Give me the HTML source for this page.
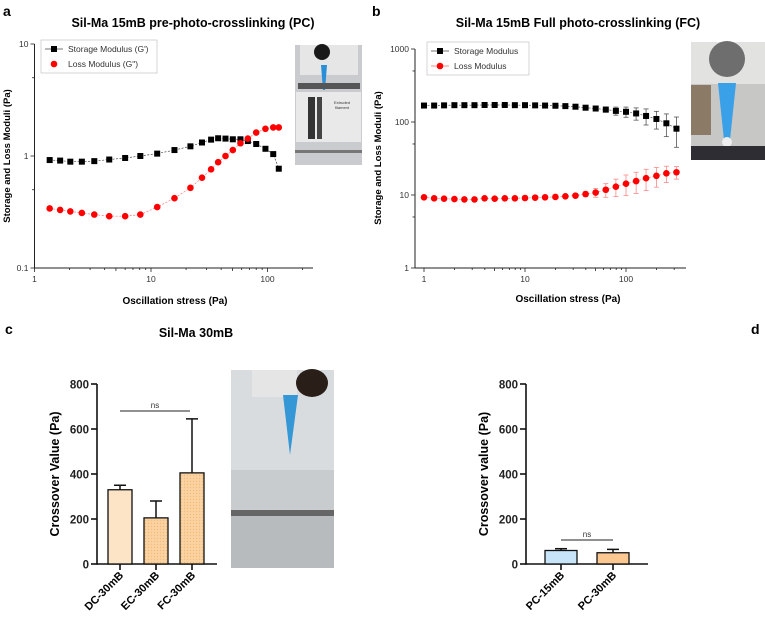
<!DOCTYPE html>
<html><head><meta charset="utf-8"><style>
body{margin:0;background:#fff;}
svg{display:block;font-family:"Liberation Sans",sans-serif;}
</style></head><body>
<svg id="fig" width="765" height="626" viewBox="0 0 765 626" xmlns="http://www.w3.org/2000/svg">
<defs>
<pattern id="dots" width="3" height="3" patternUnits="userSpaceOnUse"><rect width="3" height="3" fill="#fbd3a3"/><circle cx="1.5" cy="1.5" r="0.7" fill="#f3b978"/></pattern>
</defs>
<text x="3" y="16" font-size="14" font-weight="bold">a</text>
<text x="372" y="16" font-size="14" font-weight="bold">b</text>
<text x="5" y="334" font-size="14" font-weight="bold">c</text>
<text x="751" y="334" font-size="14" font-weight="bold">d</text>
<text x="193" y="27" font-size="12.5" font-weight="bold" text-anchor="middle">Sil-Ma 15mB pre-photo-crosslinking (PC)</text>
<text x="578" y="27" font-size="12.5" font-weight="bold" text-anchor="middle">Sil-Ma 15mB Full photo-crosslinking (FC)</text>
<text x="196" y="337" font-size="12.5" font-weight="bold" text-anchor="middle">Sil-Ma 30mB</text>
<g>
<rect x="295" y="45" width="67" height="120" fill="#c9cbcf"/>
<rect x="300" y="45" width="58" height="30" fill="#e6e6e6"/>
<circle cx="322" cy="52" r="8" fill="#1a1a1a"/>
<polygon points="321,65 327,65 325,90 323,90" fill="#2a8fd6"/>
<rect x="298" y="83" width="62" height="6" fill="#555"/>
<rect x="296" y="92" width="65" height="50" fill="#e9e9ea"/>
<rect x="308" y="97" width="7" height="42" fill="#333"/>
<rect x="317" y="97" width="5" height="42" fill="#444"/>
<text x="334" y="104" font-size="4" fill="#333">Extruded</text>
<text x="335" y="109" font-size="4" fill="#333">filament</text>
<rect x="295" y="150" width="67" height="3" fill="#777"/>
</g>
<g>
<rect x="691" y="42" width="74" height="118" fill="#c7c7c5"/>
<rect x="691" y="42" width="74" height="42" fill="#e2e2e0"/>
<circle cx="727" cy="59" r="18" fill="#6e6e6e"/>
<rect x="691" y="85" width="20" height="50" fill="#8a7a66"/>
<polygon points="718,83 736,83 730,140 724,140" fill="#3aa0e8"/>
<circle cx="727" cy="142" r="5" fill="#eee"/>
<rect x="691" y="146" width="74" height="14" fill="#2d2d33"/>
</g>
<g>
<rect x="231" y="370" width="103" height="198" fill="#c9ccce"/>
<rect x="231" y="370" width="103" height="100" fill="#d9dcde"/>
<rect x="252" y="370" width="45" height="27" fill="#e5e5e5"/>
<ellipse cx="312" cy="383" rx="16" ry="14" fill="#2a1e18"/>
<polygon points="283,395 298,395 290,455" fill="#3597d6"/>
<rect x="231" y="510" width="103" height="6" fill="#666"/>
<rect x="231" y="516" width="103" height="52" fill="#b8bbbd"/>
</g>
<g id="pa"></g><g id="pb"></g><g id="pc"></g><g id="pd"></g>
</svg>
<script>
const NS="http://www.w3.org/2000/svg";
function mk(p,t,a,txt){const e=document.createElementNS(NS,t);for(const k in a)e.setAttribute(k,a[k]);if(txt!==undefined)e.textContent=txt;p.appendChild(e);return e;}

const aStress=[1.35,1.66,2.03,2.55,3.26,4.38,6.0,8.1,11.3,15.9,21.8,27.4,32.8,37.7,43.6,50.4,58.6,67.8,80,96,112,125];
const aStorage=[0.92,0.91,0.89,0.89,0.90,0.93,0.96,1.0,1.05,1.13,1.22,1.32,1.40,1.44,1.43,1.41,1.41,1.36,1.28,1.16,1.04,0.77];
const aLoss=[0.34,0.33,0.32,0.31,0.30,0.29,0.29,0.30,0.35,0.42,0.52,0.64,0.76,0.88,1.0,1.13,1.30,1.43,1.62,1.75,1.80,1.80];
const aXTicks=[1,10,100];
const aYTicks=[0.1,1,10];

const bStress=[1,1.26,1.58,2,2.51,3.16,3.98,5.01,6.31,7.94,10,12.6,15.8,20,25.1,31.6,39.8,50.1,63.1,79.4,100,126,158,200,251,316];
const bStorage=[168,168,169,170,170,170,171,171,171,170,170,169,168,167,165,162,157,153,148,142,138,131,121,110,96,81];
const bStorageErr=[2,2,2,2,2,2,2,2,2,2,2,2,2,3,3,4,6,8,12,18,22,25,30,30,33,36];
const bLoss=[9.3,9.0,8.9,8.8,8.7,8.7,9.0,8.9,9.0,9.0,9.1,9.2,9.3,9.4,9.6,9.8,10.3,10.8,11.8,13.0,14.3,15.5,17.0,18.3,19.8,20.5];
const bLossErr=[0.2,0.2,0.2,0.2,0.2,0.2,0.2,0.2,0.2,0.2,0.2,0.2,0.3,0.3,0.4,0.5,0.8,1.5,2.5,3.5,4.5,5,5.5,5.5,5,4];
const bXTicks=[1,10,100];
const bYTicks=[1,10,100,1000];

const cCats=["DC-30mB","EC-30mB","FC-30mB"];
const cVals=[330,205,405];
const cErr=[20,75,240];
const dCats=["PC-15mB","PC-30mB"];
const dVals=[60,50];
const dErr=[8,15];
const barTicks=[0,200,400,600,800];

function logPanel(g,o){
  const X=v=>o.x0+(Math.log10(v)-Math.log10(o.xmin))*o.xdec;
  const Y=v=>o.y0-(Math.log10(v)-Math.log10(o.ymin))*o.ydec;
  const AX=o.axisX;
  const ax=mk(g,'g',{});
  
  
  mk(ax,'line',{x1:AX,y1:o.y0,x2:o.xend,y2:o.y0,stroke:'#222','stroke-width':1});
  mk(ax,'line',{x1:AX,y1:o.y0,x2:AX,y2:Y(o.yTicks[o.yTicks.length-1]),stroke:'#222','stroke-width':1});
  o.xTicks.forEach(t=>{
    for(let m=1;m<10;m++){const v=t*m;const px=X(v);if(px<=o.xend&&px>=AX)mk(ax,'line',{x1:px,y1:o.y0,x2:px,y2:o.y0+(m==1?4:(m==5?3:2)),stroke:'#222','stroke-width':0.8});}
    const l=mk(ax,'text',{x:X(t),y:o.y0+14,'font-size':8.5,'text-anchor':'middle',fill:'#333'},String(t));
    
    
  });
  o.yTicks.forEach((t,i)=>{
    mk(ax,'line',{x1:AX-4,y1:Y(t),x2:AX,y2:Y(t),stroke:'#222','stroke-width':0.8});
    if(i<o.yTicks.length-1)mk(ax,'line',{x1:AX-2.5,y1:Y(t*5),x2:AX,y2:Y(t*5),stroke:'#222','stroke-width':0.8});
    const l=mk(ax,'text',{x:AX-6,y:Y(t)+3,'font-size':8.5,'text-anchor':'end',fill:'#333'},String(t));
    
    
  });
  const yt=mk(g,'text',{x:0,y:0,'font-size':9.5,'font-weight':'bold','text-anchor':'middle',transform:`translate(${o.ytx},${o.yty}) rotate(-90)`},'Storage and Loss Moduli (Pa)');
  
  
  const xt=mk(g,'text',{x:o.xtx,y:o.xty,'font-size':10,'font-weight':'bold','text-anchor':'middle'},'Oscillation stress (Pa)');
  
  
  o.series.forEach(s=>{
    const sg=mk(g,'g',{});
    
    
    if(s.err){s.vals.forEach((v,i)=>{const px=X(o.xs[i]);
      mk(sg,'line',{x1:px,y1:Y(v+s.err[i]),x2:px,y2:Y(Math.max(v-s.err[i],0.01)),stroke:s.errc,'stroke-width':0.8});
      mk(sg,'line',{x1:px-2.5,y1:Y(v+s.err[i]),x2:px+2.5,y2:Y(v+s.err[i]),stroke:s.errc,'stroke-width':0.8});
      mk(sg,'line',{x1:px-2.5,y1:Y(v-s.err[i]),x2:px+2.5,y2:Y(v-s.err[i]),stroke:s.errc,'stroke-width':0.8});});}
    mk(sg,'polyline',{points:s.vals.map((v,i)=>X(o.xs[i])+','+Y(v)).join(' '),fill:'none',stroke:s.line,'stroke-width':0.7,'stroke-dasharray':'2,1.5'});
    s.vals.forEach((v,i)=>{const px=X(o.xs[i]),py=Y(v);let m;
      if(s.shape=='sq')m=mk(sg,'rect',{x:px-3,y:py-3,width:6,height:6,fill:'#000'});
      else m=mk(sg,'circle',{cx:px,cy:py,r:3.3,fill:'#f00'});
      
      });
  });
  const lg=mk(g,'g',{});
  
  
  const L=o.leg;
  mk(lg,'rect',{x:L.x,y:L.y,width:L.w,height:33,fill:'#fff',stroke:'#bbb','stroke-width':0.6});
  mk(lg,'line',{x1:L.x+4,y1:L.y+9,x2:L.x+22,y2:L.y+9,stroke:'#444','stroke-width':0.8});
  mk(lg,'rect',{x:L.x+10,y:L.y+6,width:6,height:6,fill:'#000'});
  const e1=mk(lg,'text',{x:L.x+27,y:L.y+12,'font-size':8.5,fill:'#333'},L.t1);
  
  
  if(L.lossLine)mk(lg,'line',{x1:L.x+4,y1:L.y+24,x2:L.x+22,y2:L.y+24,stroke:'#f66','stroke-width':0.8});
  mk(lg,'circle',{cx:L.x+13,cy:L.y+24,r:3.3,fill:'#f00'});
  const e2=mk(lg,'text',{x:L.x+27,y:L.y+27,'font-size':8.5,fill:'#333'},L.t2);
  
  
}

logPanel(document.getElementById('pa'),{id:'chart-a',x0:34.5,axisX:34.5,y0:268,xmin:1,ymin:0.1,xdec:116.5,ydec:112,xend:313,
  xTicks:aXTicks,yTicks:aYTicks,xs:aStress,ytx:10,yty:156,xtx:175,xty:304,
  series:[{name:'storage',vals:aStorage,shape:'sq',line:'#444'},{name:'loss',vals:aLoss,shape:'ci',line:'#f77'}],
  leg:{x:41,y:40,w:116,t1:"Storage Modulus (G')",t2:'Loss Modulus (G")',lossLine:false}});
logPanel(document.getElementById('pb'),{id:'chart-b',x0:424,axisX:415,y0:268,xmin:1,ymin:1,xdec:101,ydec:73,xend:686,
  xTicks:bXTicks,yTicks:bYTicks,xs:bStress,ytx:381,yty:158,xtx:568,xty:302,
  series:[{name:'storage',vals:bStorage,err:bStorageErr,errc:'#555',shape:'sq',line:'#555'},{name:'loss',vals:bLoss,err:bLossErr,errc:'#f88',shape:'ci',line:'#f88'}],
  leg:{x:427,y:42,w:102,t1:'Storage Modulus',t2:'Loss Modulus',lossLine:true}});

function barPanel(g,o){
  const Y=v=>o.y0-v/800*180;
  const ax=mk(g,'g',{});
  
  
  mk(ax,'line',{x1:o.x0,y1:o.y0,x2:o.xend,y2:o.y0,stroke:'#111','stroke-width':1.6});
  mk(ax,'line',{x1:o.x0,y1:o.y0+0.8,x2:o.x0,y2:Y(800),stroke:'#111','stroke-width':1.6});
  barTicks.forEach(t=>{mk(ax,'line',{x1:o.x0-6,y1:Y(t),x2:o.x0,y2:Y(t),stroke:'#111','stroke-width':1.6});
    const l=mk(ax,'text',{x:o.x0-8,y:Y(t)+4.5,'font-size':11.5,'font-weight':'bold','text-anchor':'end',fill:'#222'},String(t));
    
    });
  const yt=mk(g,'text',{x:0,y:0,'font-size':12.5,'font-weight':'bold','text-anchor':'middle',transform:`translate(${o.ytx},${o.yty}) rotate(-90)`},o.ytitle);
  
  
  o.vals.forEach((v,i)=>{
    const cx=o.first+i*o.step;
    mk(g,'line',{x1:cx,y1:Y(v),x2:cx,y2:Y(v+o.err[i]),stroke:'#111','stroke-width':1.5});
    mk(g,'line',{x1:cx-6,y1:Y(v+o.err[i]),x2:cx+6,y2:Y(v+o.err[i]),stroke:'#111','stroke-width':1.5});
    const b=mk(g,'rect',{x:cx-o.bw/2,y:Y(v),width:o.bw,height:o.y0-Y(v),fill:o.fills[i],stroke:'#111','stroke-width':1.3});
    
    
    mk(g,'line',{x1:cx,y1:o.y0,x2:cx,y2:o.y0+6,stroke:'#111','stroke-width':1.6});
    const l=mk(g,'text',{x:0,y:0,'font-size':11,'font-weight':'bold','text-anchor':'end',transform:`translate(${cx+4},${o.y0+12}) rotate(-45)`},o.cats[i]);
    
    
  });
  const ns=mk(g,'g',{});
  
  
  mk(ns,'line',{x1:o.ns[0],y1:o.ns[2],x2:o.ns[1],y2:o.ns[2],stroke:'#222','stroke-width':1});
  mk(ns,'text',{x:(o.ns[0]+o.ns[1])/2,y:o.ns[2]-3,'font-size':8,'text-anchor':'middle',fill:'#333'},'ns');
}
barPanel(document.getElementById('pc'),{id:'chart-c',x0:97,y0:564,xend:217,first:120,step:36,bw:24,
  cats:cCats,vals:cVals,err:cErr,fills:['#fde4c6','url(#dots)','url(#dots)'],ytitle:'Crossover Value (Pa)',ytx:59,yty:474,ns:[120,190,411]});
barPanel(document.getElementById('pd'),{id:'chart-d',x0:526,y0:564,xend:648,first:561,step:52,bw:32,
  cats:dCats,vals:dVals,err:dErr,fills:['#c8e4f8','#fbc891'],ytitle:'Crossover value (Pa)',ytx:488,yty:474,ns:[561,613,540]});
</script>
</body></html>
